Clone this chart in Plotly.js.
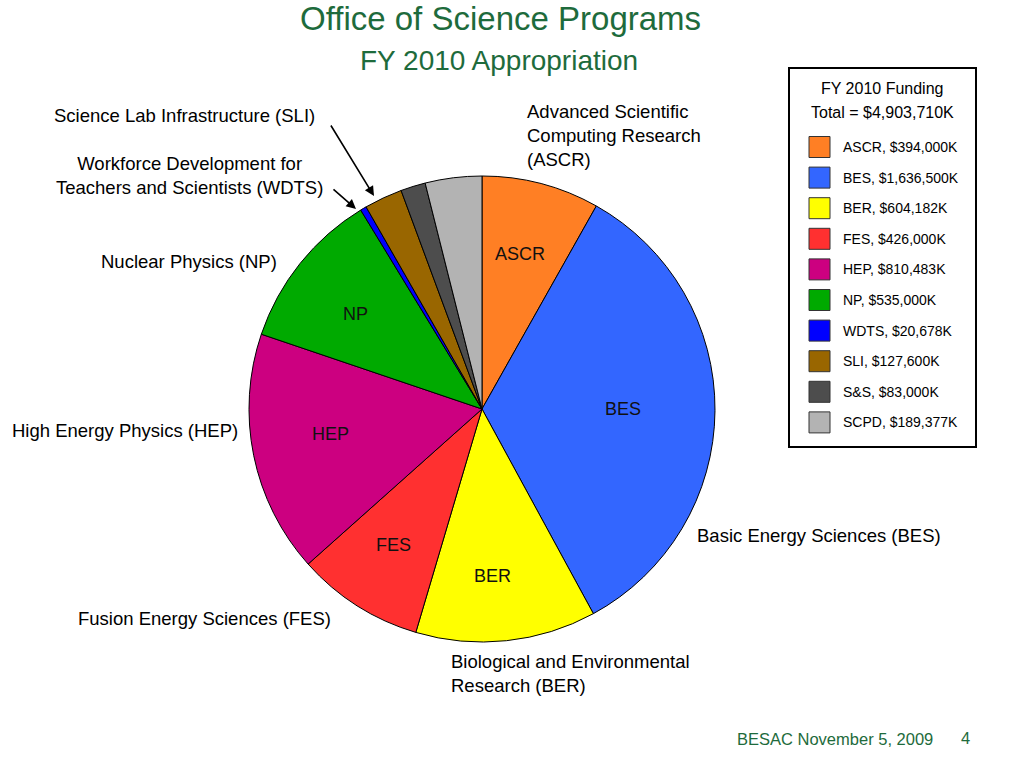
<!DOCTYPE html>
<html>
<head>
<meta charset="utf-8">
<script src="https://cdn.plot.ly/plotly-3.0.1.min.js"></script>
<style>html,body{margin:0;padding:0;background:#fff;}#chart{width:1024px;height:768px;}</style>
</head>
<body>
<div id="chart"></div>
<script>
// ---- data ----
const labels = ['ASCR', 'BES', 'BER', 'FES', 'HEP', 'NP', 'WDTS', 'SLI', 'S&S', 'SCPD'];
const values = [394000, 1636500, 604182, 426000, 810483, 535000, 20678, 127600, 83000, 189377];
const insideText = ['ASCR', 'BES', 'BER', 'FES', 'HEP', 'NP', '', '', '', ''];
const colors = ['#FF7F24', '#3366FF', '#FFFF00', '#FF3030', '#CC0080', '#00AA00', '#0000FF', '#996600', '#4D4D4D', '#B3B3B3'];
const totalFunding = '$4,903,710K';
const legendTitle = ['FY 2010 Funding', 'Total = ' + totalFunding];

// ---- helpers ----
const W = 1024, H = 768;
const px = x => x / W;
const py = y => 1 - y / H;
const esc = s => s.replace(/&/g, '&amp;');
const FONT = 'Liberation Sans, Arial, sans-serif';
const GREEN = '#1E6B3C';

const annotations = [];
const shapes = [];

function txt(x, y, text, size, opts) {
  annotations.push(Object.assign({
    xref: 'paper', yref: 'paper', x: px(x), y: py(y), text: text,
    showarrow: false, xanchor: 'center', yanchor: 'middle',
    font: {family: FONT, size: size, color: '#000'}
  }, opts || {}));
}

// Titles
txt(500, 18, 'Office of Science Programs', 33, {font: {family: FONT, size: 33, color: GREEN}});
txt(499, 60, 'FY 2010 Appropriation', 28, {font: {family: FONT, size: 28, color: GREEN}});
// Footer
txt(935, 739, 'BESAC November 5, 2009', 16.5, {xanchor: 'right', font: {family: FONT, size: 16.5, color: GREEN}});
txt(965, 738, '4', 16.5, {font: {family: FONT, size: 16.5, color: GREEN}});

// Outer labels
const OL = 18.5;
txt(525, 135, 'Advanced Scientific<br>Computing Research<br>(ASCR)', OL, {xanchor: 'left', align: 'left'});
txt(184, 115, 'Science Lab Infrastructure (SLI)', OL);
txt(189, 176, 'Workforce Development for<br>Teachers and Scientists (WDTS)', OL);
txt(189, 261, 'Nuclear Physics (NP)', OL);
txt(240, 430, 'High Energy Physics (HEP)', OL, {xanchor: 'right'});
txt(333, 618, 'Fusion Energy Sciences (FES)', OL, {xanchor: 'right'});
txt(695, 535, 'Basic Energy Sciences (BES)', OL, {xanchor: 'left'});
txt(449, 673, 'Biological and Environmental<br>Research (BER)', OL, {xanchor: 'left', align: 'left'});

// Inside slice labels
const insidePos = [[520, 254], [623, 409], [492, 576], [393, 545], [330, 434], [355, 314]];
insidePos.forEach((p, i) => txt(p[0], p[1], insideText[i], 18, {font: {family: FONT, size: 18, color: '#111'}}));

// Arrows (SLI, WDTS)
function arrow(x0, y0, x1, y1) {
  annotations.push({
    xref: 'paper', yref: 'paper', x: px(x1), y: py(y1),
    ax: x0 - x1, ay: y0 - y1, axref: 'pixel', ayref: 'pixel',
    text: '', showarrow: true, arrowhead: 2, arrowsize: 1.2, arrowwidth: 1.6, arrowcolor: '#000'
  });
}
arrow(330, 124, 374, 196);
arrow(332, 188, 356, 209);

// Custom legend box
shapes.push({type: 'rect', xref: 'paper', yref: 'paper', x0: px(789), x1: px(976), y0: py(68), y1: py(447),
  line: {color: '#000', width: 2}, fillcolor: 'rgba(0,0,0,0)'});
txt(882, 89, legendTitle[0], 16);
txt(882, 112, legendTitle[1], 16);
labels.forEach((lab, i) => {
  const cy = 147 + i * 30.6;
  shapes.push({type: 'rect', xref: 'paper', yref: 'paper', x0: px(809), x1: px(830), y0: py(cy + 10.5), y1: py(cy - 10.5),
    line: {color: '#333', width: 1}, fillcolor: colors[i]});
  txt(841, cy, esc(lab) + ', $' + values[i].toLocaleString('en-US') + 'K', 14, {xanchor: 'left'});
});

const trace = {
  type: 'pie',
  labels: labels,
  values: values,
  textinfo: 'none',
  sort: false,
  direction: 'clockwise',
  rotation: 0,
  marker: {colors: colors, line: {color: '#000', width: 1}},
  hoverinfo: 'none',
  showlegend: false,
  domain: {x: [px(249), px(715)], y: [py(642), py(176)]}
};

const layout = {
  width: W, height: H,
  margin: {l: 0, r: 0, t: 0, b: 0},
  paper_bgcolor: '#fff',
  showlegend: false,
  annotations: annotations,
  shapes: shapes,
  font: {family: FONT}
};

Plotly.newPlot('chart', [trace], layout, {displayModeBar: false, staticPlot: true});
</script>
</body>
</html>
